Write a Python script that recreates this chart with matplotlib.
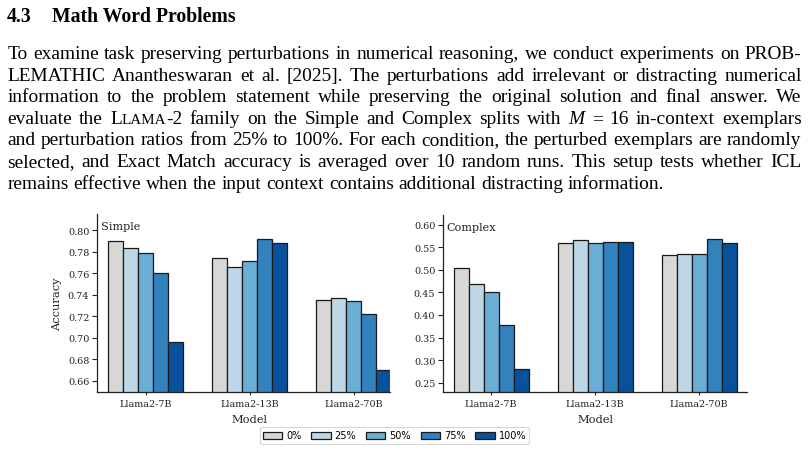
import numpy as np
import matplotlib.pyplot as plt
from matplotlib.patches import Patch

# data
models = ['Llama2-7B', 'Llama2-13B', 'Llama2-70B']
ratios = ['0%', '25%', '50%', '75%', '100%']
simple_acc = {
    '0%':   [0.790, 0.774, 0.735],
    '25%':  [0.783, 0.766, 0.737],
    '50%':  [0.779, 0.771, 0.734],
    '75%':  [0.760, 0.792, 0.722],
    '100%': [0.696, 0.788, 0.670],
}
complex_acc = {
    '0%':   [0.505, 0.559, 0.533],
    '25%':  [0.468, 0.566, 0.534],
    '50%':  [0.451, 0.559, 0.534],
    '75%':  [0.378, 0.562, 0.569],
    '100%': [0.281, 0.561, 0.560],
}
colors = ['#d7d7d7', '#bdd7e7', '#6baed6', '#3182bd', '#08519c']

heading_num = '4.3'
heading_txt = 'Math Word Problems'
para = [
    'To examine task preserving perturbations in numerical reasoning, we conduct experiments on PROB-',
    'LEMATHIC Anantheswaran et al. [2025]. The perturbations add irrelevant or distracting numerical',
    'information to the problem statement while preserving the original solution and final answer. We',
    'evaluate the L|LAMA|-2 family on the Simple and Complex splits with *M* = 16 in-context exemplars',
    'and perturbation ratios from 25% to 100%. For each condition, the perturbed exemplars are randomly',
    'selected, and Exact Match accuracy is averaged over 10 random runs. This setup tests whether ICL',
    'remains effective when the input context contains additional distracting information.',
]

W, H = 808, 452
fig = plt.figure(figsize=(W / 100, H / 100), dpi=100)
rend = fig.canvas.get_renderer()
SERIF = 'Liberation Serif'
FS = 13.95


def seg_props(word):
    # split a word into (text, kwargs) pieces: |..| small caps, *..* italic
    if '|' in word:
        a, b, c = word.split('|')
        out = [(a, {}), (b, {'fontsize': FS * 0.78}), (c, {})]
    elif word.startswith('*'):
        out = [(word.strip('*'), {'style': 'italic'})]
    else:
        out = [(word, {})]
    return [(t, kw) for t, kw in out if t]


def draw_line(line, y_base, justify=True, x0=7.5, x1=801.5):
    items = []
    for w in line.split(' '):
        pieces = []
        for t, kw in seg_props(w):
            p = dict(family=SERIF, fontsize=FS)
            p.update(kw)
            txt = fig.text(0, 1 - y_base / H, t, va='baseline', ha='left', **p)
            wd = txt.get_window_extent(rend).width
            pieces.append((txt, wd))
        items.append(pieces)
    widths = [sum(wd for _, wd in pcs) for pcs in items]
    if justify:
        gap = (x1 - x0 - sum(widths)) / (len(items) - 1)
    else:
        gap = FS * 1.389 * 0.25
    x = x0
    for pcs, wsum in zip(items, widths):
        xx = x
        for txt, wd in pcs:
            txt.set_x(xx / W)
            xx += wd
        x += wsum + gap


# heading
fig.text(7 / W, 1 - 22 / H, heading_num, family=SERIF, fontsize=14.2,
         weight='bold', va='baseline')
fig.text(52 / W, 1 - 22 / H, heading_txt, family=SERIF, fontsize=14.2,
         weight='bold', va='baseline')

for i, line in enumerate(para):
    draw_line(line, 59 + 21.6 * i, justify=(i < len(para) - 1))

# charts
plt.rcParams['font.family'] = 'DejaVu Serif'
x = np.arange(len(models))
bw = 0.145


def panel(rect, data, ylim, yticks, tag, xlim, xlab_pos, ylabel=None):
    ax = fig.add_axes(rect)
    for i, r in enumerate(ratios):
        ax.bar(x + (i - 2) * bw, data[r], width=bw, color=colors[i],
               edgecolor='#1a1a1a', linewidth=0.9, label=r)
    ax.set_ylim(*ylim)
    ax.set_xlim(*xlim)
    ax.set_yticks(yticks)
    ax.set_yticklabels(['%.2f' % v for v in yticks])
    ax.set_xticks(x)
    ax.set_xticklabels(models)
    ax.tick_params(axis='both', labelsize=6.9, colors='#222222',
                   length=3.5, width=0.8, pad=2)
    ax.tick_params(axis='x', length=2.5, pad=3)
    for s in ['top', 'right']:
        ax.spines[s].set_visible(False)
    for s in ['left', 'bottom']:
        ax.spines[s].set_color('#222222')
        ax.spines[s].set_linewidth(0.9)
    ax.set_xlabel('Model', fontsize=8.2, color='#222222')
    ax.xaxis.set_label_coords(xlab_pos, -0.125)
    if ylabel:
        ax.set_ylabel(ylabel, fontsize=8.2, color='#222222')
    ax.text(0.012, 0.93, tag, transform=ax.transAxes, fontsize=8.1,
            color='#222222', va='center')
    return ax


ax1 = panel([97 / W, 1 - 392.7 / H, (390 - 97) / W, (392.7 - 215) / H],
            simple_acc, (0.65, 0.815), np.arange(0.66, 0.801, 0.02),
            'Simple', (-0.469, 2.351), 0.521, ylabel='Accuracy')
ax2 = panel([443 / W, 1 - 392.7 / H, (747 - 443) / W, (392.7 - 216) / H],
            complex_acc, (0.23, 0.6215), np.arange(0.25, 0.601, 0.05),
            'Complex', (-0.464, 2.459), 0.502)

handles = [Patch(facecolor=c, edgecolor='#1a1a1a', linewidth=0.9) for c in colors]
leg = fig.legend(handles, ratios, loc='center', ncol=5,
                 bbox_to_anchor=(394.5 / W, 1 - 436.5 / H),
                 prop={'family': 'DejaVu Sans', 'size': 7},
                 handlelength=2.0, handleheight=0.7, handletextpad=0.4,
                 columnspacing=1.0, borderpad=0.35, frameon=True,
                 fancybox=True)
leg.get_frame().set_edgecolor('#cccccc')
leg.get_frame().set_linewidth(0.8)

fig.savefig('out.png', dpi=100)
